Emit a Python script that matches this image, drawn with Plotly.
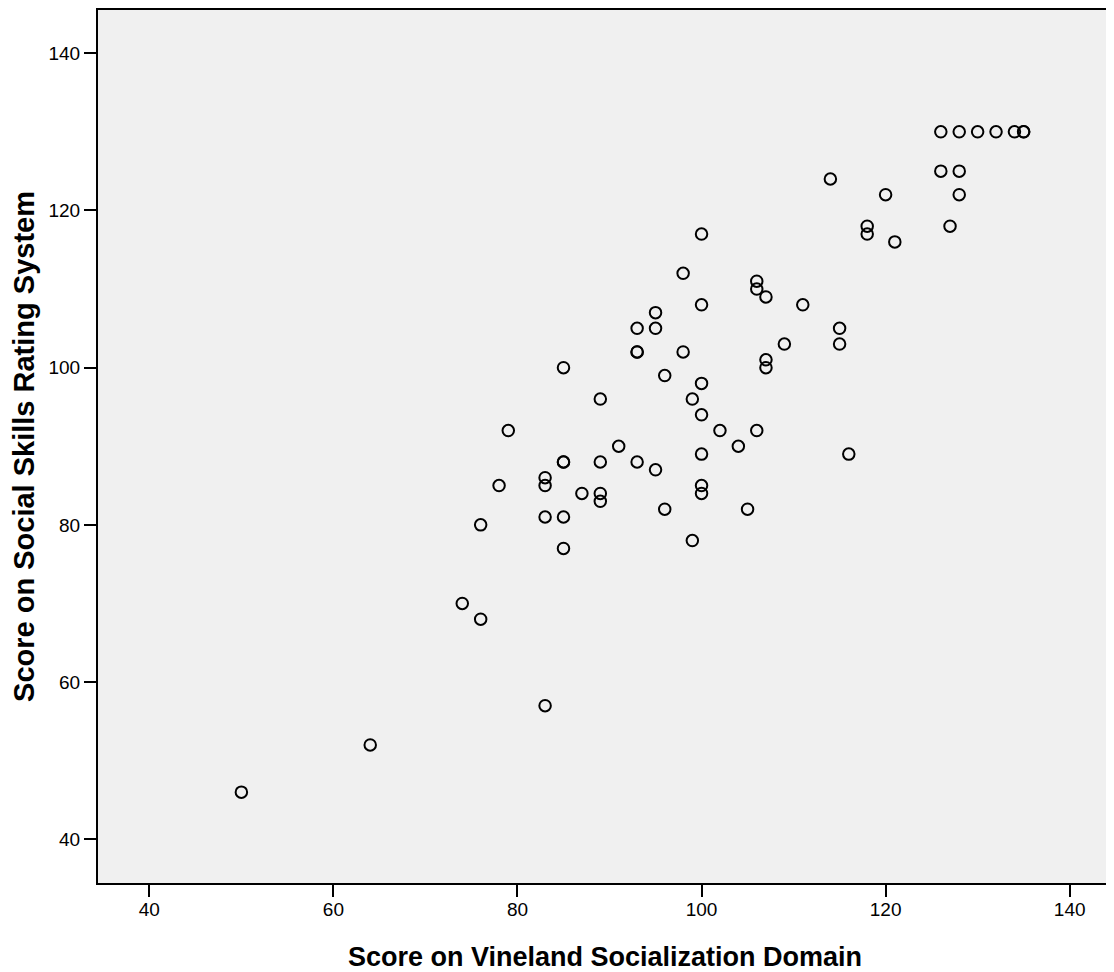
import plotly.graph_objects as go

# Score on Vineland Socialization Domain (x) vs Score on Social Skills Rating System (y)
vineland = [50, 64, 74, 76, 76, 78, 79, 83, 83, 83, 83, 85, 85, 85, 85, 85,
            87, 89, 89, 89, 89, 91, 93, 93, 93, 93, 95, 95, 95, 96, 96, 98,
            98, 99, 99, 100, 100, 100, 100, 100, 100, 100, 102, 104, 105, 106,
            106, 106, 107, 107, 107, 109, 111, 114, 115, 115, 116, 118, 118,
            120, 121, 126, 126, 127, 128, 128, 128, 130, 132, 134, 135, 135]
ssrs = [46, 52, 70, 68, 80, 85, 92, 57, 81, 85, 86, 77, 81, 88, 88, 100,
        84, 83, 84, 88, 96, 90, 88, 102, 102, 105, 87, 105, 107, 82, 99, 102,
        112, 78, 96, 84, 85, 89, 94, 98, 108, 117, 92, 90, 82, 92,
        110, 111, 100, 101, 109, 103, 108, 124, 103, 105, 89, 117, 118,
        122, 116, 125, 130, 118, 122, 125, 130, 130, 130, 130, 130, 130]

x_ticks = [40, 60, 80, 100, 120, 140]
y_ticks = [40, 60, 80, 100, 120, 140]

fig = go.Figure(go.Scatter(
    x=vineland, y=ssrs, mode="markers",
    marker=dict(symbol="circle-open", size=11.5, color="black",
                line=dict(color="black", width=2)),
    showlegend=False, hoverinfo="x+y",
))

tick_font = dict(family="Liberation Sans, Arial", size=19, color="black")
title_font = dict(family="Liberation Sans, Arial", color="black")

# page body has an 8px margin, so the figure is sized to fit inside the window
fig.update_layout(
    width=1106, height=964,
    margin=dict(l=90, r=2, t=2, b=89),
    paper_bgcolor="white", plot_bgcolor="#F0F0F0",
    xaxis=dict(
        range=[34.42, 144.6], tickvals=x_ticks, ticktext=[str(v) for v in x_ticks],
        showgrid=False, zeroline=False,
        showline=True, linecolor="black", linewidth=2, mirror=True,
        ticks="outside", ticklen=12, tickwidth=2, tickcolor="black",
        tickfont=tick_font, ticklabelstandoff=-4,
        title=dict(text="<b>Score on Vineland Socialization Domain</b>",
                   font=dict(size=27, **title_font), standoff=28),
        automargin=False,
    ),
    yaxis=dict(
        range=[34.44, 145.5], tickvals=y_ticks, ticktext=[str(v) for v in y_ticks],
        showgrid=False, zeroline=False,
        showline=True, linecolor="black", linewidth=2,
        ticks="outside", ticklen=12, tickwidth=2, tickcolor="black",
        tickfont=tick_font,
        title=dict(text="<b>Score on Social Skills Rating System</b>",
                   font=dict(size=29, **title_font), standoff=25),
        automargin=False,
    ),
)

fig.write_html("out.html")
